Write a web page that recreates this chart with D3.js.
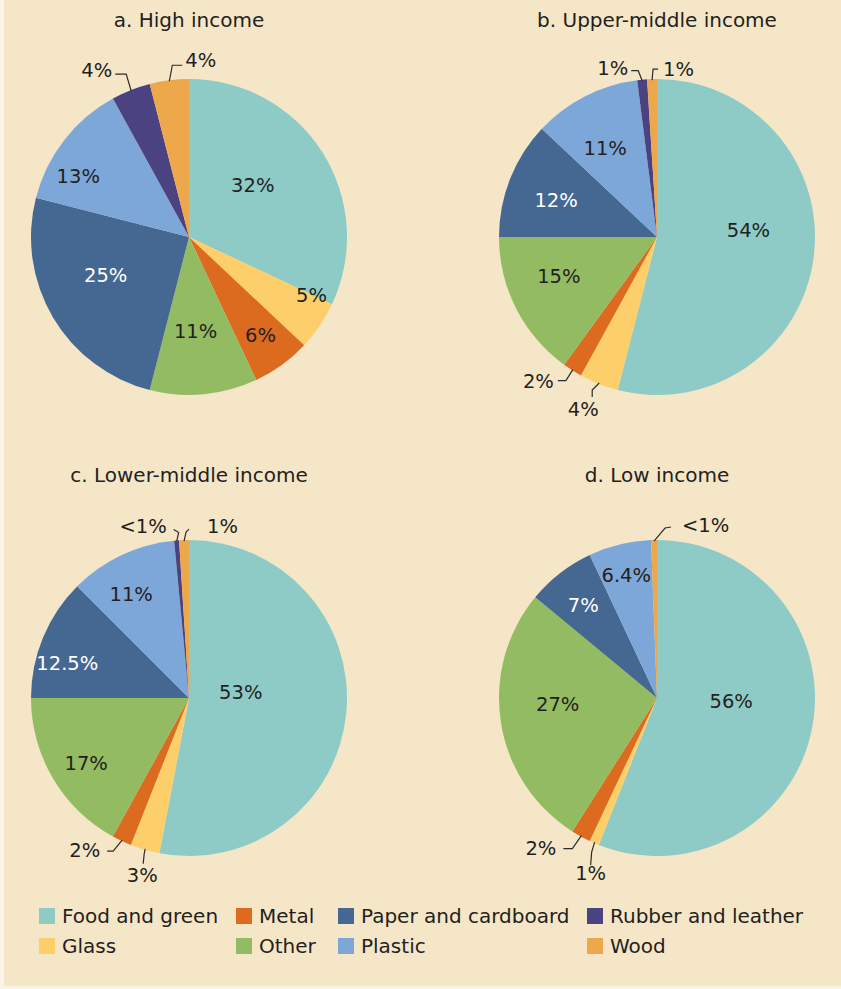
<!DOCTYPE html>
<html><head><meta charset="utf-8">
<script src="https://cdn.jsdelivr.net/npm/d3@7"></script>
<style>
html,body{margin:0;padding:0;background:#fbf4e6;}
svg{display:block;}
text{font-family:"DejaVu Sans", sans-serif;}
</style></head><body>
<svg id="c" width="841" height="989"></svg>
<script>
// ---- data ----
const categories = ["Food and green","Glass","Metal","Other","Paper and cardboard","Plastic","Rubber and leather","Wood"];
const colors = ["#8fcbc6","#fdcf6b","#dc6b1f","#93bb61","#456893","#7da7d9","#4b4381","#eca84a"];
const panelTitles = ["a. High income","b. Upper-middle income","c. Lower-middle income","d. Low income"];
const highIncome        = [32, 5, 6, 11, 25,   13,  4,   4];
const upperMiddleIncome = [54, 4, 2, 15, 12,   11,  1,   1];
const lowerMiddleIncome = [53, 3, 2, 17, 12.5, 11,  0.5, 1];
const lowIncome         = [56, 1, 2, 27, 7,    6.4, 0,   0.6];
const highLabels        = ["32%","5%","6%","11%","25%","13%","4%","4%"];
const upperMiddleLabels = ["54%","4%","2%","15%","12%","11%","1%","1%"];
const lowerMiddleLabels = ["53%","3%","2%","17%","12.5%","11%","<1%","1%"];
const lowLabels         = ["56%","1%","2%","27%","7%","6.4%","","<1%"];
const legendOrder = [0,2,4,6,1,3,5,7];

// ---- layout (not data) ----
const R = 158;
const panels = [
  {values: highIncome, labels: highLabels, cx:189, cy:237, ty:27,
   inner: {0:[0.52,-6.7],1:[0.86,-8.6],2:[0.77,0],3:[0.6,1.4],4:[0.58,6],5:[0.8,-9]},
   white: [4],
   call: [
     {i:6, e:[-5,-17], t:[-11,0], a:"end", o:[-3,-4]},
     {i:7, e:[3,-16], t:[10,0], a:"start", o:[3,-5]}
   ]},
  {values: upperMiddleIncome, labels: upperMiddleLabels, cx:657, cy:237, ty:27,
   inner: {0:[0.58,-11],3:[0.67,5],4:[0.68,-1.6],5:[0.65,-3.3]},
   white: [4],
   call: [
     {i:1, e:[-7,7], t:[0,7], a:"middle", o:[-9,13]},
     {i:2, e:[-7,11], t:[-8,0], a:"end", o:[-4,1]},
     {i:6, e:[-4,-10], t:[-7,0], a:"end", o:[-3,-2]},
     {i:7, e:[1,-11], t:[5,0], a:"start", o:[5,0]}
   ]},
  {values: lowerMiddleIncome, labels: lowerMiddleLabels, cx:189, cy:698, ty:482,
   inner: {0:[0.33,-12],3:[0.77,-1.7],4:[0.8,-6.8],5:[0.75,-4]},
   white: [4],
   call: [
     {i:1, e:[-1,5], t:[-1,10], a:"middle", o:[-1,12]},
     {i:2, e:[-9,11], t:[-6,0], a:"end", o:[-7,-1]},
     {i:6, e:[2,-9], t:[-5,-3], a:"end", o:[-7,-3]},
     {i:7, e:[2,-9], t:[3,-3], a:"start", o:[18,-3]}
   ]},
  {values: lowIncome, labels: lowLabels, cx:657, cy:698, ty:482,
   inner: {0:[0.47,-7.8],3:[0.63,5],4:[0.75,-0.7],5:[0.8,-0.4]},
   white: [4],
   call: [
     {i:1, e:[-3,10], t:[-1,13], a:"middle", o:[0,8]},
     {i:2, e:[-9,13], t:[-9,0], a:"end", o:[-7,0]},
     {i:7, e:[11,-13], t:[6,-1], a:"start", o:[11,-2]}
   ]}
];

const svg = d3.select("#c");
svg.append("rect").attr("x",4).attr("y",0).attr("width",837).attr("height",986).attr("fill","#f5e6c8");

const color = d3.scaleOrdinal().domain(d3.range(categories.length)).range(colors);
const pie = d3.pie().sort(null).value(d => d.v);
const arc = d3.arc().innerRadius(0).outerRadius(R);
const TXT = "#231f20";
const pt = (a, r) => [r*Math.sin(a), -r*Math.cos(a)];

panels.forEach((p, k) => {
  const g = svg.append("g").attr("transform", `translate(${p.cx},${p.cy})`);
  svg.append("text").attr("x", p.cx).attr("y", p.ty).attr("text-anchor","middle")
    .attr("font-size", 20).attr("fill", TXT).text(panelTitles[k]);
  const arcs = pie(p.values.map((v,i)=>({v, i})));
  g.selectAll("path").data(arcs).join("path")
    .attr("d", arc).attr("fill", d => color(d.data.i));
  // inner labels
  arcs.forEach(d => {
    const spec = p.inner[d.data.i];
    if (!spec) return;
    const mid = (d.startAngle + d.endAngle)/2 + spec[1]*Math.PI/180;
    const [x,y] = pt(mid, spec[0]*R);
    g.append("text").attr("x", x).attr("y", y).attr("text-anchor","middle")
      .attr("dominant-baseline","central").attr("font-size", 19.5)
      .attr("fill", p.white.includes(d.data.i) ? "#ffffff" : TXT)
      .text(p.labels[d.data.i]);
  });
  // callouts
  p.call.forEach(c => {
    const d = arcs[c.i];
    const mid = (d.startAngle + d.endAngle)/2;
    const [x0,y0] = pt(mid, R-1);
    const x1 = x0 + c.e[0], y1 = y0 + c.e[1];
    const x2 = x1 + c.t[0], y2 = y1 + c.t[1];
    g.append("path").attr("d", d3.line()([[x0,y0],[x1,y1],[x2,y2]]))
      .attr("fill","none").attr("stroke","#2b2b2b").attr("stroke-width",1.2);
    g.append("text").attr("x", x2 + c.o[0]).attr("y", y2 + c.o[1])
      .attr("text-anchor", c.a).attr("dominant-baseline","central")
      .attr("font-size", 19.5).attr("fill", TXT).text(p.labels[c.i]);
  });
});

// legend
const legCols = [39, 236, 338, 587], legRows = [916, 946];
const leg = svg.append("g");
legendOrder.forEach((ci, n) => {
  const col = n % 4, row = Math.floor(n / 4);
  const x = legCols[col], y = legRows[row];
  leg.append("rect").attr("x", x).attr("y", y-8).attr("width",16).attr("height",16).attr("fill", color(ci));
  leg.append("text").attr("x", x+23).attr("y", y).attr("dominant-baseline","central")
    .attr("font-size", 20).attr("fill", TXT).text(categories[ci]);
});
</script>
</body></html>
